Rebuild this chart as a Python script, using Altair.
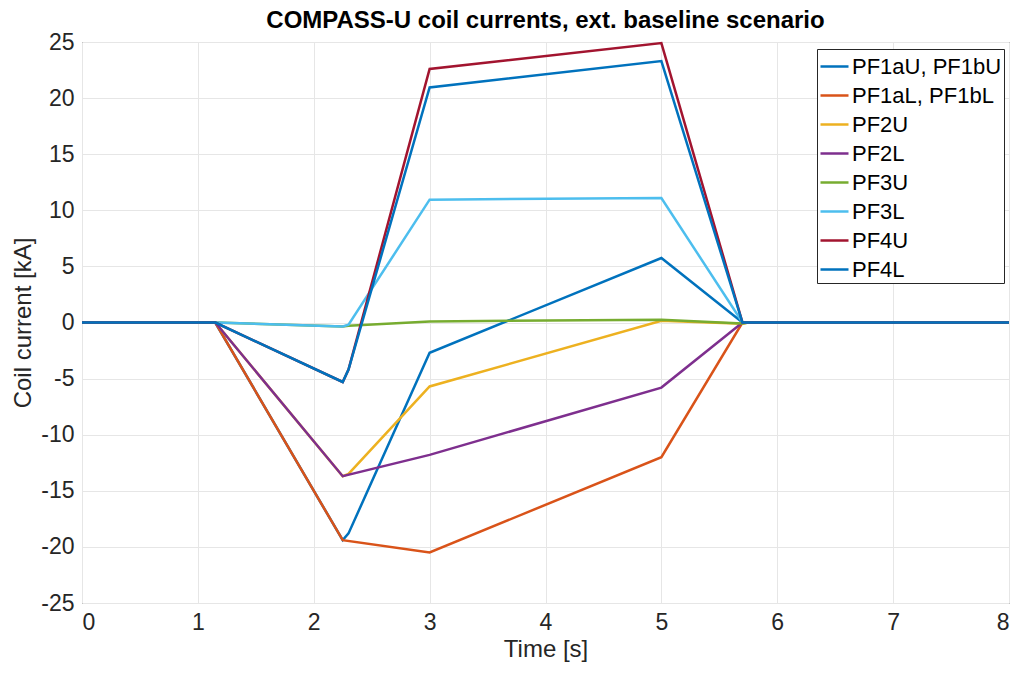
import altair as alt
import pandas as pd

series_names = ["PF1aU, PF1bU", "PF1aL, PF1bL", "PF2U", "PF2L", "PF3U", "PF3L", "PF4U", "PF4L"]
series_colors = ["#0072BD", "#D95319", "#EDB120", "#7E2F8E", "#77AC30", "#4DBEEE", "#A2142F", "#0072BD"]

t_pf1u = [0, 1.15, 2.25, 2.3, 3, 5, 5.7, 8]
v_pf1u = [0, 0, -19.4, -18.8, -2.7, 5.75, 0, 0]
t_pf1l = [0, 1.15, 2.25, 3, 5, 5.7, 8]
v_pf1l = [0, 0, -19.4, -20.5, -12.0, 0, 0]
t_pf2u = [0, 1.15, 2.25, 2.3, 3, 5, 5.7, 5.75, 8]
v_pf2u = [0, 0, -13.7, -13.5, -5.7, 0.15, -0.12, 0, 0]
t_pf2l = [0, 1.15, 2.25, 3, 5, 5.7, 8]
v_pf2l = [0, 0, -13.7, -11.8, -5.8, 0, 0]
t_pf3u = [0, 1.15, 2.25, 2.3, 3, 5, 5.7, 5.75, 8]
v_pf3u = [0, 0, -0.35, -0.3, 0.1, 0.25, -0.08, 0, 0]
t_pf3l = [0, 1.15, 2.25, 2.3, 3, 5, 5.7, 8]
v_pf3l = [0, 0, -0.35, -0.2, 10.95, 11.1, 0, 0]
t_pf4u = [0, 1.15, 2.25, 2.3, 3, 5, 5.7, 8]
v_pf4u = [0, 0, -5.3, -4.2, 22.6, 24.9, 0, 0]
t_pf4l = [0, 1.15, 2.25, 2.3, 3, 5, 5.7, 8]
v_pf4l = [0, 0, -5.3, -4.2, 20.95, 23.3, 0, 0]

all_t = [t_pf1u, t_pf1l, t_pf2u, t_pf2l, t_pf3u, t_pf3l, t_pf4u, t_pf4l]
all_v = [v_pf1u, v_pf1l, v_pf2u, v_pf2l, v_pf3u, v_pf3l, v_pf4u, v_pf4l]

x_ticks = list(range(0, 9))
y_ticks = list(range(-25, 30, 5))

rows = []
for name, ts, vs in zip(series_names, all_t, all_v):
    for i, (t, v) in enumerate(zip(ts, vs)):
        rows.append({"series": name, "t": t, "v": v, "i": i})
df = pd.DataFrame(rows)

FONT = "Liberation Sans"
TXT = "#262626"

color = alt.Color(
    "series:N",
    scale=alt.Scale(domain=series_names, range=series_colors),
    legend=alt.Legend(
        title=None,
        orient="none",
        legendX=735,
        legendY=7,
        symbolType="stroke",
        symbolSize=784,
        symbolStrokeWidth=2.5,
        labelFontSize=22,
        labelFont=FONT,
        labelColor="#000000",
        rowPadding=2,
        padding=2,
        strokeColor=TXT,
        fillColor="white",
        labelOffset=2,
    ),
)

x = alt.X(
    "t:Q",
    scale=alt.Scale(domain=[0, 8], nice=False),
    axis=alt.Axis(values=x_ticks, title="Time [s]", labelPadding=8, titlePadding=3,
                  labelExpr="toString(datum.value)"),
)
y = alt.Y(
    "v:Q",
    scale=alt.Scale(domain=[-25, 25], nice=False),
    axis=alt.Axis(values=y_ticks, title="Coil current [kA]", labelPadding=8, titlePadding=5,
                  labelExpr="toString(datum.value)"),
)

base = alt.Chart(df).mark_line(strokeWidth=2.5).encode(x=x, y=y, color=color, order="i:Q")
layers = [base.transform_filter(alt.datum.series == s) for s in series_names]

chart = alt.layer(*layers).properties(
    width=927,
    height=561,
    title=alt.Title(
        "COMPASS-U coil currents, ext. baseline scenario",
        font=FONT, fontSize=24, fontWeight="bold", color="#000000", offset=1, dy=3,
    ),
    autosize=alt.AutoSizeParams(type="none"),
    padding={"left": 74, "top": 34, "right": 6, "bottom": 63},
).configure_axis(
    labelFont=FONT, labelFontSize=23, labelColor=TXT,
    titleFont=FONT, titleFontSize=24, titleColor=TXT, titleFontWeight="normal",
    gridColor="#e6e6e6", gridWidth=1, domain=False, ticks=False,
).configure_view(
    stroke=TXT, strokeWidth=1
)

chart.save("out.html", embed_options={"renderer": "svg", "actions": False})
